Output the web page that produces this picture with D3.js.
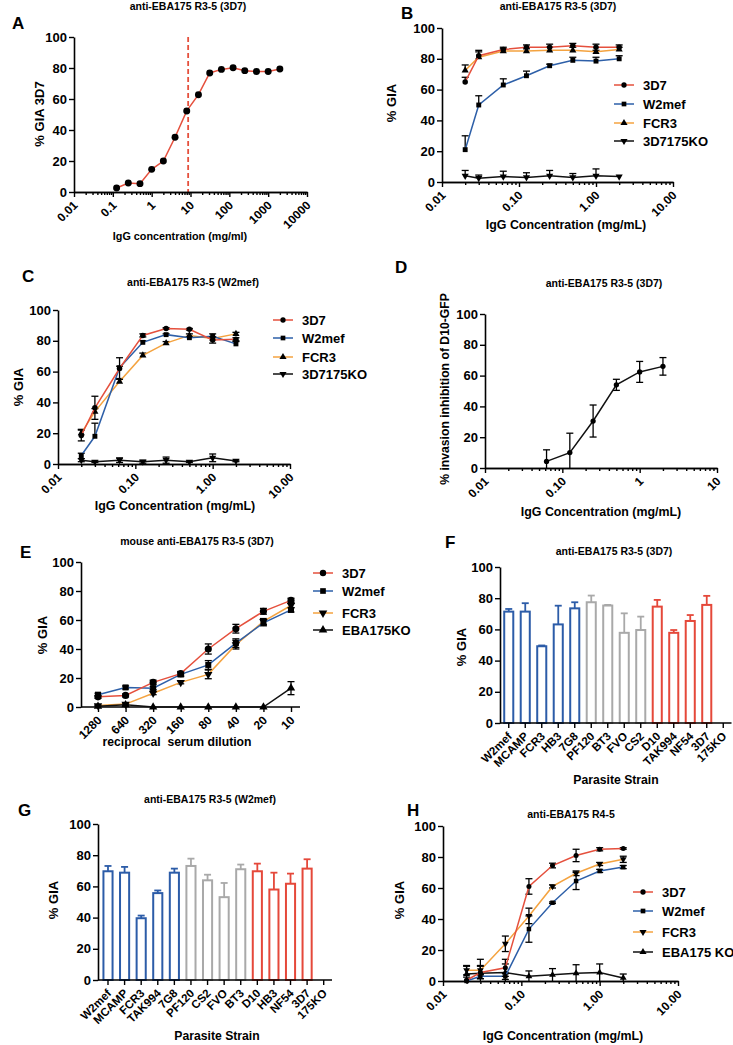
<!DOCTYPE html>
<html><head><meta charset="utf-8">
<script src="https://cdn.jsdelivr.net/npm/d3@7"></script>
<style>
body{margin:0;background:#fff;}
svg text{font-family:"Liberation Sans",Arial,Helvetica,sans-serif;font-weight:bold;fill:#000;}
</style></head><body>
<svg id="fig" width="733" height="1045" xmlns="http://www.w3.org/2000/svg"></svg>
<script>
// ---------------- DATA ----------------
const yTicks = [0, 20, 40, 60, 80, 100];

// Panel A
const concA = [0.125, 0.25, 0.5, 1, 2, 4, 8, 16, 31.25, 62.5, 125, 250, 500, 1000, 2000];
const giaA = [2.6, 5.8, 5.4, 14.6, 20, 35.3, 52.3, 62.8, 76.8, 79.1, 80.2, 78.3, 77.8, 77.8, 79.4];
const ec50A = 8.7;
const ticksA = [0.01, 0.1, 1, 10, 100, 1000, 10000];
const tickLabelsA = ["0.01", "0.1", "1", "10", "100", "1000", "10000"];

// Shared log ticks
const ticksLog = [0.01, 0.1, 1, 10];
const tickLabelsLog = ["0.01", "0.10", "1.00", "10.00"];
const tickLabelsD = ["0.01", "0.10", "1", "10"];

// Panel B
const concB = [0.02, 0.03, 0.0625, 0.125, 0.25, 0.5, 1, 2];
const namesBC = ["3D7", "W2mef", "FCR3", "3D7175KO"];
const b3D7 = [65, 82, 86, 87.5, 87.5, 88.5, 87.5, 87.5];
const b3D7Err = [3, 3.5, 1.5, 1.5, 2, 1.5, 2, 1.5];
const bW2mef = [21, 50, 63, 69, 75.5, 79, 78.5, 80];
const bW2mefErr = [9, 6, 4, 3, 1, 2, 2.5, 2];
const bFCR3 = [72.5, 81, 85, 85, 85.5, 85.5, 84.5, 86];
const bFCR3Err = [3.5, 3.5, 1.5, 1.5, 2, 2, 1, 1.5];
const bKO = [4, 2.5, 3.5, 3, 4, 3, 4, 3.5];
const bKOErr = [3.5, 2, 3.5, 3, 3.5, 2.5, 4.5, 0];

// Panel C
const concC = [0.02, 0.03, 0.0625, 0.125, 0.25, 0.5, 1, 2];
const c3D7 = [18.5, 36.5, 62, 83.5, 88, 87.5, 80.5, 81];
const c3D7Err = [3.5, 7.5, 7, 1, 0.5, 0.5, 2, 1];
const cW2mef = [5.5, 18, 62.5, 79, 84, 82, 83, 78];
const cW2mefErr = [1.5, 8.5, 1, 1, 0.5, 0.5, 1.5, 1.5];
const cFCR3 = [20, 34, 53.5, 70.5, 78.5, 83.5, 81.5, 84.5];
const cFCR3Err = [2.5, 2, 2, 1.5, 1, 1, 1, 1];
const cKO = [2.5, 1.5, 2.5, 1.5, 2.5, 1.5, 4, 2];
const cKOErr = [1, 0.5, 1.5, 1, 2, 0.5, 2.5, 0.5];

// Panel D
const concD = [0.0625, 0.125, 0.25, 0.5, 1, 2];
const invD = [4.3, 10, 30.5, 54, 62.4, 66];
const invDErr = [7.5, 12.6, 10.4, 3.6, 6.8, 5.7];

// Panel E
const dilE = ["1280", "640", "320", "160", "80", "40", "20", "10"];
const namesE = ["3D7", "W2mef", "FCR3", "EBA175KO"];
const e3D7 = [7, 8, 17, 23, 40, 54, 66, 73.5];
const e3D7Err = [1, 1, 1.5, 1.5, 3.5, 3, 2, 1.5];
const eW2mef = [8.5, 13.5, 13, 22.5, 29, 44, 58, 67];
const eW2mefErr = [1, 1, 1, 1.5, 3, 3, 2, 1.5];
const eFCR3 = [1, 2, 9.5, 17, 22.5, 43, 59, 70];
const eFCR3Err = [0.5, 0.5, 1, 1, 3, 3, 2, 1.5];
const eKO = [0.5, 1.5, 0, 0, 0, 0, 0, 13];
const eKOErr = [0.5, 0.5, 0, 0, 0, 0, 0, 4.5];

// Panel F
const strainsF = ["W2mef", "MCAMP", "FCR3", "HB3", "7G8", "PF120", "BT3", "FVO", "CS2", "D10", "TAK994", "NF54", "3D7", "175KO"];
const giaF = [71.4, 71.4, 49.2, 63.2, 73.5, 77.4, 75.3, 57.8, 59.6, 74.6, 57.8, 65.4, 75.7, 0];
const giaFErr = [1.7, 5.4, 0.5, 12, 3.9, 4.3, 0.4, 12.5, 8.6, 4.3, 1.8, 3.8, 5.8, 0];
const groupF = ["b", "b", "b", "b", "b", "g", "g", "g", "g", "r", "r", "r", "r", "r"];

// Panel G
const strainsG = ["W2mef", "MCAMP", "FCR3", "TAK994", "7G8", "PF120", "CS2", "FVO", "BT3", "D10", "HB3", "NF54", "3D7", "175KO"];
const giaG = [69.7, 68.8, 39.6, 55.7, 68.8, 73.1, 63.9, 53.1, 71, 69.7, 58, 61.7, 71.4, 0];
const giaGErr = [3.4, 3.7, 1.7, 1.7, 2.6, 4.7, 3.6, 9.1, 3, 4.9, 10.8, 6.5, 6, 0];
const groupG = ["b", "b", "b", "b", "b", "g", "g", "g", "g", "r", "r", "r", "r", "r"];

// Panel H
const concH = [0.02, 0.03, 0.0625, 0.125, 0.25, 0.5, 1, 2];
const namesH = ["3D7", "W2mef", "FCR3", "EBA175 KO"];
const h3D7 = [0.5, 5.5, 8.5, 61, 74.5, 81, 85, 85.5];
const h3D7Err = [2, 4, 5.5, 5, 1.5, 4, 1, 0.5];
const hW2mef = [0, 3, 3, 33.5, 50.5, 64.5, 71, 73.5];
const hW2mefErr = [0, 1.5, 2, 8.5, 0.5, 5.5, 1, 1];
const hFCR3 = [7, 7, 24, 42, 61, 69.5, 75.5, 78.5];
const hFCR3Err = [3, 3, 5, 5, 1, 1.5, 1, 2];
const hKO = [4.5, 5, 5.5, 3, 4, 5, 5.5, 2];
const hKOErr = [5, 9, 5.5, 3.5, 4, 5.5, 5.5, 2.5];

// ---------------- STYLE ----------------
const RED = "#e5503d", BLUE = "#2d5fa8", ORANGE = "#f4a340", BLACK = "#111";
const barColor = {b: "#2c5ca8", g: "#a9a9a9", r: "#e5483a"};

const svg = d3.select("#fig");

function addText(x, y, str, size, anchor = "middle", rot = 0) {
  const t = svg.append("text").attr("font-size", size).attr("text-anchor", anchor).text(str);
  if (rot) t.attr("transform", `translate(${x},${y}) rotate(${rot})`);
  else t.attr("x", x).attr("y", y);
  return t;
}
function styleAxis(g, fs) {
  g.selectAll("path.domain").attr("stroke", "#000").attr("stroke-width", 1.6);
  g.selectAll(".tick line").attr("stroke", "#000").attr("stroke-width", 1.4);
  g.selectAll(".tick text").attr("fill", "#000").attr("font-size", fs).attr("font-weight", "bold")
    .attr("font-family", '"Liberation Sans",Arial,sans-serif');
}
function rotLabels(g) {
  g.selectAll(".tick text").attr("transform", "rotate(-45)").attr("text-anchor", "end")
    .attr("x", -7).attr("y", 12.7).attr("dy", 0);
}
function yAxis(ys, x) {
  const g = svg.append("g").attr("transform", `translate(${x},0)`)
    .call(d3.axisLeft(ys).tickValues(yTicks).tickSize(5).tickSizeOuter(0).tickPadding(2));
  styleAxis(g, 13);
}
function logXAxis(xs, y, majors, labels, fs = 12) {
  const [d0, d1] = xs.domain();
  const minors = [];
  for (let e = Math.round(Math.log10(d0)); e < Math.round(Math.log10(d1)); e++)
    for (let k = 2; k <= 9; k++) minors.push(+(k * Math.pow(10, e)).toPrecision(6));
  const gm = svg.append("g").attr("transform", `translate(0,${y})`)
    .call(d3.axisBottom(xs).tickValues(minors).tickSize(3).tickSizeOuter(0).tickFormat(""));
  styleAxis(gm, fs);
  const g = svg.append("g").attr("transform", `translate(0,${y})`)
    .call(d3.axisBottom(xs).tickValues(majors).tickSize(5).tickSizeOuter(0).tickFormat((d, i) => labels[i]));
  styleAxis(g, fs); rotLabels(g);
}
function symPath(sym, size) {
  const type = sym === "circle" ? d3.symbolCircle : sym === "square" ? d3.symbolSquare : d3.symbolTriangle;
  return d3.symbol().type(type).size(size)();
}
function drawSeries(xs, ys, xv, vals, errs, color, sym, size, mode) {
  const g = svg.append("g");
  const [yb] = ys.range();
  vals.forEach((v, i) => {
    const e = errs ? errs[i] : 0;
    if (!e) return;
    const x = xs(xv[i]);
    const hi = ys(v + e);
    const loV = v - e;
    const lo = mode === "up" ? ys(v) : Math.min(yb, ys(loV));
    g.append("line").attr("x1", x).attr("x2", x).attr("y1", hi).attr("y2", lo).attr("stroke", "#000").attr("stroke-width", 1.3);
    g.append("line").attr("x1", x - 3.5).attr("x2", x + 3.5).attr("y1", hi).attr("y2", hi).attr("stroke", "#000").attr("stroke-width", 1.3);
    if (mode !== "up" && loV > 0)
      g.append("line").attr("x1", x - 3.5).attr("x2", x + 3.5).attr("y1", lo).attr("y2", lo).attr("stroke", "#000").attr("stroke-width", 1.3);
  });
  g.append("path").datum(vals)
    .attr("d", d3.line().x((d, i) => xs(xv[i])).y(d => ys(d)))
    .attr("fill", "none").attr("stroke", color).attr("stroke-width", 1.5);
  g.selectAll("path.m").data(vals).join("path").attr("class", "m")
    .attr("transform", (d, i) => `translate(${xs(xv[i])},${ys(d)})${sym === "down" ? " rotate(180)" : ""}`)
    .attr("d", symPath(sym, size)).attr("fill", "#000");
}
function legend(x, ys, names, colors, syms, size, fs = 13) {
  names.forEach((n, i) => {
    const y = ys[i];
    svg.append("line").attr("x1", x).attr("x2", x + 20).attr("y1", y).attr("y2", y).attr("stroke", colors[i]).attr("stroke-width", 1.5);
    svg.append("path").attr("transform", `translate(${x + 10},${y})${syms[i] === "down" ? " rotate(180)" : ""}`)
      .attr("d", symPath(syms[i], size)).attr("fill", "#000");
    addText(x + 29, y + 4.5, n, fs, "start");
  });
}
function barChart(strains, vals, errs, groups, xr, yr, axisX) {
  const xs = d3.scaleBand().domain(strains).range(xr).paddingInner(0.33).paddingOuter(0.165);
  const ys = d3.scaleLinear().domain([0, 100]).range(yr);
  const g = svg.append("g");
  strains.forEach((s, i) => {
    const v = vals[i], c = barColor[groups[i]];
    const x0 = xs(s), w = xs.bandwidth(), cx = x0 + w / 2;
    if (errs[i] > 0) {
      const hi = ys(v + errs[i]);
      g.append("line").attr("x1", cx).attr("x2", cx).attr("y1", hi).attr("y2", ys(v)).attr("stroke", c).attr("stroke-width", 1.8);
      g.append("line").attr("x1", cx - 3.5).attr("x2", cx + 3.5).attr("y1", hi).attr("y2", hi).attr("stroke", c).attr("stroke-width", 1.8);
    }
    if (v > 0) g.append("rect").attr("x", x0 + 1).attr("y", ys(v)).attr("width", w - 2).attr("height", ys(0) - ys(v))
      .attr("fill", "#fff").attr("stroke", c).attr("stroke-width", 2);
  });
  yAxis(ys, axisX);
  const gx = svg.append("g").attr("transform", `translate(0,${yr[0]})`)
    .call(d3.axisBottom(xs).tickSize(5).tickSizeOuter(0));
  gx.select(".domain").attr("d", `M${axisX},0H${xr[1]}`);
  styleAxis(gx, 11.5); rotLabels(gx);
  return {xs, ys};
}

// ---------------- PANEL A ----------------
{
  const xs = d3.scaleLog().domain([0.01, 10000]).range([74, 307]);
  const ys = d3.scaleLinear().domain([0, 100]).range([192, 37]);
  addText(12, 29, "A", 17, "start");
  addText(188, 10, "anti-EBA175 R3-5 (3D7)", 10.5);
  addText(44, 114, "% GIA 3D7", 13, "middle", -90);
  addText(180, 240, "IgG concentration (mg/ml)", 10.8);
  svg.append("line").attr("x1", xs(ec50A)).attr("x2", xs(ec50A)).attr("y1", ys(100)).attr("y2", ys(0))
    .attr("stroke", RED).attr("stroke-width", 1.8).attr("stroke-dasharray", "5,3");
  yAxis(ys, 74);
  logXAxis(xs, 192, ticksA, tickLabelsA, 12);
  drawSeries(xs, ys, concA, giaA, null, RED, "circle", 38, "sym");
}

// ---------------- PANEL B ----------------
{
  const xs = d3.scaleLog().domain([0.01, 10]).range([442, 673]);
  const ys = d3.scaleLinear().domain([0, 100]).range([182, 28]);
  addText(401, 19, "B", 17, "start");
  addText(558, 10, "anti-EBA175 R3-5 (3D7)", 10.5);
  addText(396, 103, "% GIA", 13, "middle", -90);
  addText(566, 229, "IgG Concentration (mg/mL)", 12.4);
  yAxis(ys, 442);
  logXAxis(xs, 182, ticksLog, tickLabelsLog, 12);
  drawSeries(xs, ys, concB, bKO, bKOErr, BLACK, "down", 22, "up");
  drawSeries(xs, ys, concB, bW2mef, bW2mefErr, BLUE, "square", 24, "up");
  drawSeries(xs, ys, concB, bFCR3, bFCR3Err, ORANGE, "tri", 22, "up");
  drawSeries(xs, ys, concB, b3D7, b3D7Err, RED, "circle", 24, "up");
  legend(614, [85, 104, 123, 141], namesBC, [RED, BLUE, ORANGE, BLACK], ["circle", "square", "tri", "down"], 22);
}

// ---------------- PANEL C ----------------
{
  const xs = d3.scaleLog().domain([0.01, 10]).range([58, 290]);
  const ys = d3.scaleLinear().domain([0, 100]).range([464, 310]);
  addText(22, 282, "C", 17, "start");
  addText(193, 286, "anti-EBA175 R3-5 (W2mef)", 10.5);
  addText(23, 387, "% GIA", 13, "middle", -90);
  addText(175, 510, "IgG Concentration (mg/mL)", 12.4);
  yAxis(ys, 58);
  logXAxis(xs, 464, ticksLog, tickLabelsLog, 12);
  drawSeries(xs, ys, concC, cKO, cKOErr, BLACK, "down", 22, "sym");
  drawSeries(xs, ys, concC, cFCR3, cFCR3Err, ORANGE, "tri", 22, "up");
  drawSeries(xs, ys, concC, cW2mef, cW2mefErr, BLUE, "square", 24, "up");
  drawSeries(xs, ys, concC, c3D7, c3D7Err, RED, "circle", 24, "sym");
  legend(273, [320, 338, 357, 374], namesBC, [RED, BLUE, ORANGE, BLACK], ["circle", "square", "tri", "down"], 22);
}

// ---------------- PANEL D ----------------
{
  const xs = d3.scaleLog().domain([0.01, 10]).range([485, 717]);
  const ys = d3.scaleLinear().domain([0, 100]).range([468, 314]);
  addText(395, 273, "D", 17, "start");
  addText(604, 287, "anti-EBA175 R3-5 (3D7)", 10.5);
  addText(449, 389, "% invasion inhibition of D10-GFP", 12.2, "middle", -90);
  addText(601, 516, "IgG Concentration (mg/mL)", 12.4);
  yAxis(ys, 485);
  logXAxis(xs, 468, ticksLog, tickLabelsD, 12);
  drawSeries(xs, ys, concD, invD, invDErr, BLACK, "circle", 22, "sym");
}

// ---------------- PANEL E ----------------
{
  const xs = d3.scalePoint().domain(dilE).range([98, 291]);
  const ys = d3.scaleLinear().domain([0, 100]).range([707, 562]);
  addText(20, 558, "E", 17, "start");
  addText(197, 545, "mouse anti-EBA175 R3-5 (3D7)", 10.5);
  addText(47, 635, "% GIA", 13, "middle", -90);
  addText(177, 746, "reciprocal  serum dilution", 12.2).style("white-space", "pre");
  yAxis(ys, 81);
  const gx = svg.append("g").attr("transform", "translate(0,707)")
    .call(d3.axisBottom(xs).tickSize(5).tickSizeOuter(0));
  gx.select(".domain").attr("d", "M81,0H300");
  styleAxis(gx, 12); rotLabels(gx);
  drawSeries(xs, ys, dilE, eFCR3, eFCR3Err, ORANGE, "down", 30, "sym");
  drawSeries(xs, ys, dilE, eW2mef, eW2mefErr, BLUE, "square", 36, "sym");
  drawSeries(xs, ys, dilE, e3D7, e3D7Err, RED, "circle", 40, "sym");
  drawSeries(xs, ys, dilE, eKO, eKOErr, BLACK, "tri", 30, "sym");
  legend(313, [573, 591, 613, 630], namesE, [RED, BLUE, ORANGE, BLACK], ["circle", "square", "down", "tri"], 32);
}

// ---------------- PANEL F ----------------
{
  addText(445, 548, "F", 17, "start");
  addText(614, 555, "anti-EBA175 R3-5 (3D7)", 10.5);
  addText(466, 647, "% GIA", 13, "middle", -90);
  addText(616, 784, "Parasite Strain", 12.2);
  barChart(strainsF, giaF, giaFErr, groupF, [500.5, 731.5], [723, 567], 500);
}

// ---------------- PANEL G ----------------
{
  addText(18, 816, "G", 17, "start");
  addText(210, 803, "anti-EBA175 R3-5 (W2mef)", 10.5);
  addText(58, 900, "% GIA", 13, "middle", -90);
  addText(217, 1040, "Parasite Strain", 12.2);
  barChart(strainsG, giaG, giaGErr, groupG, [99.7, 332], [980, 824], 98);
}

// ---------------- PANEL H ----------------
{
  const xs = d3.scaleLog().domain([0.01, 10]).range([443, 678]);
  const ys = d3.scaleLinear().domain([0, 100]).range([981, 826]);
  addText(407, 816, "H", 17, "start");
  addText(571, 818, "anti-EBA175 R4-5", 10.5);
  addText(404, 900, "% GIA", 13, "middle", -90);
  addText(563, 1040, "IgG Concentration (mg/mL)", 12.4);
  yAxis(ys, 443);
  logXAxis(xs, 981, ticksLog, tickLabelsLog, 12);
  drawSeries(xs, ys, concH, hKO, hKOErr, BLACK, "tri", 20, "sym");
  drawSeries(xs, ys, concH, hW2mef, hW2mefErr, BLUE, "square", 20, "sym");
  drawSeries(xs, ys, concH, hFCR3, hFCR3Err, ORANGE, "down", 20, "sym");
  drawSeries(xs, ys, concH, h3D7, h3D7Err, RED, "circle", 20, "sym");
  legend(633, [892, 911, 932, 952], namesH, [RED, BLUE, ORANGE, BLACK], ["circle", "square", "down", "tri"], 22);
}
</script>
</body></html>
